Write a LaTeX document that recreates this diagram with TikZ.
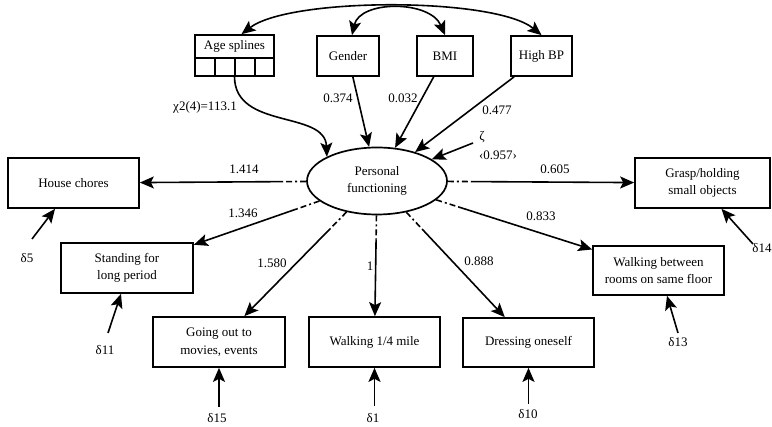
\documentclass[tikz,border=0pt]{standalone}
\usepackage{fontspec}
\setmainfont{Liberation Serif}
\usetikzlibrary{arrows.meta,calc,shapes.geometric}
\tikzset{
  box/.style={draw,line width=1.7pt,align=center,inner sep=1pt,
    font=\fontsize{13}{17.5}\selectfont},
  lbl/.style={font=\fontsize{13}{15}\selectfont,inner sep=1pt},
  arr/.style={line width=1.6pt,-{Stealth[length=14pt,width=12pt,inset=3pt]}},
  arrb/.style={line width=1.6pt,{Stealth[length=14pt,width=12pt,inset=3pt]}-{Stealth[length=14pt,width=12pt,inset=3pt]}},
  dd/.style={line width=1.6pt,dash pattern=on 6pt off 3pt on 2pt off 3pt},
}
\newcommand\indlink[2]{%
  \path (#1) -- (#2) coordinate[pos=0] (#1-#2-a) coordinate[pos=1] (#1-#2-b);
  \draw[dd] (#1-#2-a) -- ($(#1-#2-a)!24pt!(#1-#2-b)$);
  \draw[arr] ($(#1-#2-a)!24pt!(#1-#2-b)$) -- (#1-#2-b);}
\begin{document}
\begin{tikzpicture}[x=1pt,y=-1pt]
\useasboundingbox[fill=white] (0,0) rectangle (772,427);

% top boxes
\node[box,minimum width=79pt,minimum height=41pt] (age) at (234.5,55.5) {};
\node[lbl] (agetxt) at (234.5,46.5) {Age splines};
\draw[line width=1.7pt] (195,58) -- (274,58);
\draw[line width=1.7pt] (215,58) -- (215,76) (235,58) -- (235,76) (255,58) -- (255,76);
\node[box,minimum width=62pt,minimum height=40pt] (gender) at (348,56) {Gender};
\node[box,minimum width=56pt,minimum height=40pt] (bmi) at (445,56) {BMI};
\node[box,minimum width=61pt,minimum height=40pt] (hbp) at (541.5,56) {High BP};

% latent
\node[draw,ellipse,line width=1.7pt,minimum width=140pt,minimum height=67pt,
  inner sep=0pt,align=center,font=\fontsize{13}{16.5}\selectfont] (pf) at (377,181) {Personal\\functioning};

% indicator boxes
\node[box,minimum width=131pt,minimum height=50pt] (hc) at (73.5,183) {House chores};
\node[box,minimum width=132pt,minimum height=50pt] (st) at (127,268) {Standing for\\long period};
\node[box,minimum width=132pt,minimum height=50pt] (go) at (219,342) {Going out to\\movies, events};
\node[box,minimum width=131pt,minimum height=50pt] (wk) at (374.5,342) {Walking 1/4 mile};
\node[box,minimum width=131pt,minimum height=49pt] (dr) at (528.5,342.5) {Dressing oneself};
\node[box,minimum width=131pt,minimum height=49pt] (wb) at (658.5,270.5) {Walking between\\rooms on same floor};
\node[box,minimum width=135pt,minimum height=50pt] (gr) at (702.5,183) {Grasp/holding\\small objects};

% covariances
\draw[arrb] ([xshift=7pt]age.north) .. controls (290,-3) and (495,-3) .. (hbp.north);
\draw[arrb] ([xshift=4pt]gender.north) .. controls (360,0) and (430,0) .. (bmi.north);

% structural paths
\draw[arr] (age.south) .. controls (235,130) and (325,110) .. (pf.north west);
\draw[arr] (gender) -- (pf);
\draw[arr] (bmi) -- (pf);
\draw[arr] (hbp) -- (pf);
\coordinate (zs) at (473,143);
\draw[arr] (zs) -- (pf);

% loadings
\indlink{pf}{hc}
\indlink{pf}{st}
\indlink{pf}{go}
\indlink{pf}{wk}
\indlink{pf}{dr}
\indlink{pf}{wb}
\indlink{pf}{gr}

% labels
\node[lbl] (lchi) at (205,107) {χ2(4)=113.1};
\node[lbl] (l374) at (338,98) {0.374};
\node[lbl] (l032) at (403,98) {0.032};
\node[lbl] (l477) at (497,110) {0.477};
\node[lbl] (lzeta) at (482,137) {ζ};
\node[lbl] (lzv) at (498,155) {‹0.957›};
\node[lbl] (l1414) at (244,169) {1.414};
\node[lbl] (l1346) at (243,213) {1.346};
\node[lbl] (l1580) at (272,263) {1.580};
\node[lbl] (l1) at (370,266) {1};
\node[lbl] (l888) at (479,261) {0.888};
\node[lbl] (l833) at (541,216) {0.833};
\node[lbl] (l605) at (555,169) {0.605};

% errors
\node[lbl] (d5) at (27,258) {δ5};
\node[lbl] (d11) at (105,350) {δ11};
\node[lbl] (d15) at (217,418.5) {δ15};
\node[lbl] (d1) at (373,418) {δ1};
\node[lbl] (d10) at (528,414) {δ10};
\node[lbl] (d13) at (678,342) {δ13};
\node[lbl] (d14) at (762,248) {δ14};
\coordinate (s5) at (32,239);
\coordinate (s11) at (108,333);
\coordinate (s15) at (219,407);
\coordinate (s1) at (374.5,406);
\coordinate (s10) at (528.5,404);
\coordinate (s13) at (678,333);
\coordinate (s14) at (753,244);
\draw[arr] (s5) -- ([xshift=-18.5pt]hc.south);
\draw[arr] (s11) -- ([xshift=-6pt]st.south);
\draw[arr] (s15) -- (go.south);
\draw[arr] (s1) -- (wk.south);
\draw[arr] (s10) -- (dr.south);
\draw[arr] (s13) -- ([xshift=8.5pt]wb.south);
\draw[arr] (s14) -- ([xshift=19pt]gr.south);
\end{tikzpicture}
\end{document}
